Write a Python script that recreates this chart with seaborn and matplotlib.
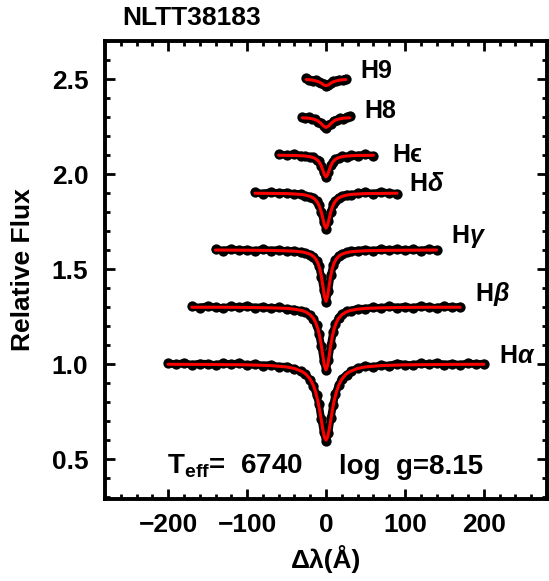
import matplotlib
matplotlib.use("Agg")
import matplotlib.pyplot as plt
import pandas as pd
import seaborn as sns

star = "NLTT38183"
teff = 6740
logg = 8.15

line_names = ["H$\\alpha$", "H$\\beta$", "H$\\gamma$", "H$\\delta$", "H\u03f5", "H8", "H9"]

obs_ha_x = [-200, -190, -180, -170, -160, -150, -140, -130, -120, -110, -100, -90, -80, -70, -60, -50, -40,
            -32, -26, -20, -16, -12, -9, -6, -3, 0, 3, 6, 9, 12, 16, 20, 26, 32,
            40, 50, 60, 70, 80, 90, 100, 110, 120, 130, 140, 150, 160, 170, 180, 190, 200]
obs_ha_y = [1.004, 0.998, 1.006, 0.996, 1.003, 1.001, 0.995, 1.004, 0.999, 1.005, 0.994, 1.000, 0.992, 0.996, 0.986, 0.987, 0.973,
            0.962, 0.946, 0.915, 0.885, 0.838, 0.790, 0.710, 0.640, 0.595, 0.635, 0.715, 0.785, 0.845, 0.888, 0.922, 0.943, 0.962,
            0.978, 0.989, 0.985, 0.995, 0.991, 1.003, 0.997, 0.994, 1.004, 0.998, 1.006, 0.997, 1.002, 0.996, 1.005, 0.999, 1.003]

obs_hb_x = [-170, -160, -150, -140, -130, -120, -110, -100, -90, -80, -70, -60, -50, -40,
            -32, -26, -20, -16, -12, -9, -6, -3, 0, 3, 6, 9, 12, 16, 20, 26, 32,
            40, 50, 60, 70, 80, 90, 100, 110, 120, 130, 140, 150, 160, 170]
obs_hb_y = [1.303, 1.297, 1.305, 1.299, 1.294, 1.304, 1.298, 1.306, 1.296, 1.301, 1.293, 1.298, 1.290, 1.287,
            1.280, 1.272, 1.256, 1.238, 1.204, 1.160, 1.095, 1.015, 0.968, 1.020, 1.100, 1.170, 1.210, 1.245, 1.262, 1.278, 1.281,
            1.292, 1.291, 1.299, 1.294, 1.304, 1.297, 1.302, 1.295, 1.305, 1.299, 1.296, 1.304, 1.298, 1.302]

obs_hg_x = [-140, -130, -120, -110, -100, -90, -80, -70, -60, -50, -40,
            -32, -26, -20, -16, -12, -9, -6, -3, 0, 3, 6, 9, 12, 16, 20, 26, 32,
            40, 50, 60, 70, 80, 90, 100, 110, 120, 130, 140]
obs_hg_y = [1.603, 1.597, 1.605, 1.598, 1.602, 1.595, 1.604, 1.597, 1.601, 1.594, 1.596,
            1.590, 1.585, 1.576, 1.565, 1.543, 1.515, 1.460, 1.390, 1.328, 1.385, 1.468, 1.520, 1.548, 1.570, 1.580, 1.588, 1.594,
            1.597, 1.601, 1.596, 1.604, 1.599, 1.605, 1.598, 1.603, 1.597, 1.604, 1.600]

obs_hd_x = [-90, -80, -70, -60, -50, -40,
            -32, -26, -20, -16, -12, -9, -6, -3, 0, 3, 6, 9, 12, 16, 20, 26, 32,
            40, 50, 60, 70, 80, 90]
obs_hd_y = [1.903, 1.897, 1.905, 1.898, 1.902, 1.894,
            1.896, 1.887, 1.880, 1.872, 1.856, 1.835, 1.800, 1.750, 1.712, 1.752, 1.802, 1.840, 1.860, 1.876, 1.884, 1.892, 1.890,
            1.898, 1.904, 1.896, 1.906, 1.899, 1.897]

obs_he_x = [-60, -50, -40, -32, -26, -20, -16, -12, -9, -6, -3, 0, 3, 6, 9, 12, 16, 20, 26, 32, 40, 50, 60]
obs_he_y = [2.104, 2.099, 2.105, 2.097, 2.095, 2.088, 2.087, 2.075, 2.066, 2.042, 2.010, 1.983,
            2.012, 2.045, 2.063, 2.078, 2.084, 2.093, 2.091, 2.099, 2.097, 2.103, 2.095]

obs_h8_x = [-30, -26, -22, -18, -14, -10, -6, -3, 0, 3, 6, 10, 14, 18, 22, 26, 30]
obs_h8_y = [2.302, 2.295, 2.298, 2.289, 2.288, 2.276, 2.268, 2.254, 2.243, 2.256, 2.263, 2.281, 2.284, 2.295, 2.292, 2.299, 2.306]

obs_h9_x = [-25, -21, -17, -13, -9, -6, -3, 0, 3, 6, 9, 13, 17, 21, 25]
obs_h9_y = [2.503, 2.497, 2.491, 2.494, 2.485, 2.480, 2.472, 2.463, 2.471, 2.477, 2.488, 2.491, 2.497, 2.493, 2.502]

# model fits (red)
mod_ha_x = [-200, -150, -100, -70, -50, -40, -30, -25, -20, -16, -13, -10, -8, -6, -4, -2, 0,
            2, 4, 6, 8, 10, 13, 16, 20, 25, 30, 40, 50, 70, 100, 150, 200]
mod_ha_y = [0.999, 0.998, 0.996, 0.992, 0.985, 0.977, 0.960, 0.945, 0.920, 0.888, 0.851, 0.800, 0.756, 0.706, 0.655, 0.615, 0.600,
            0.615, 0.655, 0.706, 0.756, 0.800, 0.851, 0.888, 0.920, 0.945, 0.960, 0.977, 0.985, 0.992, 0.996, 0.998, 0.999]

mod_hb_x = [-170, -130, -100, -70, -50, -40, -30, -25, -20, -16, -13, -10, -8, -6, -4, -2, 0,
            2, 4, 6, 8, 10, 13, 16, 20, 25, 30, 40, 50, 70, 100, 130, 170]
mod_hb_y = [1.299, 1.299, 1.298, 1.296, 1.293, 1.289, 1.281, 1.273, 1.259, 1.241, 1.218, 1.181, 1.146, 1.099, 1.043, 0.992, 0.970,
            0.992, 1.043, 1.099, 1.146, 1.181, 1.218, 1.241, 1.259, 1.273, 1.281, 1.289, 1.293, 1.296, 1.298, 1.299, 1.299]

mod_hg_x = [-140, -100, -70, -50, -40, -30, -25, -20, -16, -13, -10, -8, -6, -4, -2, 0,
            2, 4, 6, 8, 10, 13, 16, 20, 25, 30, 40, 50, 70, 100, 140]
mod_hg_y = [1.600, 1.599, 1.598, 1.596, 1.594, 1.590, 1.585, 1.578, 1.567, 1.553, 1.529, 1.503, 1.465, 1.413, 1.357, 1.330,
            1.357, 1.413, 1.465, 1.503, 1.529, 1.553, 1.567, 1.578, 1.585, 1.590, 1.594, 1.596, 1.598, 1.599, 1.600]

mod_hd_x = [-90, -70, -50, -40, -30, -25, -20, -16, -13, -10, -8, -6, -4, -2, 0,
            2, 4, 6, 8, 10, 13, 16, 20, 25, 30, 40, 50, 70, 90]
mod_hd_y = [1.899, 1.898, 1.897, 1.895, 1.892, 1.888, 1.882, 1.874, 1.863, 1.845, 1.826, 1.800, 1.766, 1.731, 1.715,
            1.731, 1.766, 1.800, 1.826, 1.845, 1.863, 1.874, 1.882, 1.888, 1.892, 1.895, 1.897, 1.898, 1.899]

mod_he_x = [-60, -50, -40, -30, -25, -20, -16, -13, -10, -8, -6, -4, -2, 0,
            2, 4, 6, 8, 10, 13, 16, 20, 25, 30, 40, 50, 60]
mod_he_y = [2.099, 2.098, 2.098, 2.096, 2.094, 2.091, 2.086, 2.080, 2.070, 2.059, 2.043, 2.020, 1.997, 1.985,
            1.997, 2.020, 2.043, 2.059, 2.070, 2.080, 2.086, 2.091, 2.094, 2.096, 2.098, 2.098, 2.099]

mod_h8_x = [-30, -26, -22, -18, -14, -10, -6, -3, 0, 3, 6, 10, 14, 18, 22, 26, 30]
mod_h8_y = [2.296, 2.295, 2.294, 2.291, 2.287, 2.279, 2.265, 2.252, 2.245, 2.252, 2.265, 2.279, 2.287, 2.291, 2.294, 2.295, 2.296]

mod_h9_x = [-25, -21, -17, -13, -9, -6, -3, 0, 3, 6, 9, 13, 17, 21, 25]
mod_h9_y = [2.497, 2.496, 2.494, 2.490, 2.485, 2.478, 2.469, 2.465, 2.469, 2.478, 2.485, 2.490, 2.494, 2.496, 2.497]

# label positions (data coords)
label_x = [219, 189, 158, 105, 84, 48, 44]
label_y = [1.04, 1.37, 1.67, 1.95, 2.10, 2.33, 2.54]

obs = [(obs_ha_x, obs_ha_y), (obs_hb_x, obs_hb_y), (obs_hg_x, obs_hg_y), (obs_hd_x, obs_hd_y),
       (obs_he_x, obs_he_y), (obs_h8_x, obs_h8_y), (obs_h9_x, obs_h9_y)]
mod = [(mod_ha_x, mod_ha_y), (mod_hb_x, mod_hb_y), (mod_hg_x, mod_hg_y), (mod_hd_x, mod_hd_y),
       (mod_he_x, mod_he_y), (mod_h8_x, mod_h8_y), (mod_h9_x, mod_h9_y)]

sns.set_style("ticks")
plt.rcParams['font.family'] = ['Liberation Sans', 'DejaVu Sans']
plt.rcParams['font.weight'] = 'bold'
plt.rcParams['mathtext.fontset'] = 'custom'
plt.rcParams['mathtext.rm'] = 'Liberation Sans:bold'
plt.rcParams['mathtext.it'] = 'Liberation Sans:bold:italic'
plt.rcParams['mathtext.bf'] = 'Liberation Sans:bold'
for k in ['text.color', 'axes.labelcolor', 'xtick.color', 'ytick.color', 'axes.edgecolor']:
    plt.rcParams[k] = 'black'

fig = plt.figure(figsize=(5.49, 5.81), dpi=100)
ax = fig.add_axes([105/549, 82/581, 442/549, 458/581])

for name, (ox, oy), (mx, my), lx, ly in zip(line_names, obs, mod, label_x, label_y):
    dfo = pd.DataFrame({"dl": ox, "flux": oy})
    dfm = pd.DataFrame({"dl": mx, "flux": my})
    sns.lineplot(data=dfo, x="dl", y="flux", sort=False, estimator=None, color="black", lw=5.5, ax=ax)
    sns.scatterplot(data=dfo, x="dl", y="flux", color="black", s=55, edgecolor="black", linewidth=0, ax=ax, zorder=3)
    sns.lineplot(data=dfm, x="dl", y="flux", sort=False, estimator=None, color="red", lw=2.2, ax=ax, zorder=4)
    ax.text(lx, ly, name, fontsize=18, fontweight="bold", ha="left", va="center")

ax.text(-201, 0.46, "T$_{\\mathrm{eff}}$=  %d" % teff, fontsize=20, fontweight="bold", ha="left", va="center")
ax.text(16, 0.46, "log  g=%.2f" % logg, fontsize=20, fontweight="bold", ha="left", va="center")

ax.set_xlim(-280, 280)
ax.set_ylim(0.29, 2.70)
ax.set_xticks([-200, -100, 0, 100, 200])
ax.set_xticks(range(-280, 281, 20), minor=True)
ax.set_yticks([0.5, 1.0, 1.5, 2.0, 2.5])
ax.set_yticks([0.3 + 0.1 * i for i in range(25)], minor=True)
ax.set_yticklabels(["0.5", "1.0", "1.5", "2.0", "2.5"])
ax.set_xticklabels(["\u2212200", "\u2212100", "0", "100", "200"])
ax.tick_params(which="both", direction="in", top=True, right=True, width=2, labelsize=19)
ax.tick_params(which="major", length=7.5)
ax.tick_params(which="minor", length=3.6)
ax.tick_params(axis="y", pad=12)
ax.tick_params(axis="x", pad=10)
for sp in ax.spines.values():
    sp.set_linewidth(2.8)

ax.set_xlabel("\u0394\u03bb(\u00c5)", fontsize=19, fontweight="bold", labelpad=6)
ax.set_ylabel("Relative Flux", fontsize=19, fontweight="bold", labelpad=12)
fig.text(122/549, 1 - 18/581, star, fontsize=19, fontweight="bold", ha="left", va="center")

fig.savefig("out.png", dpi=100)
